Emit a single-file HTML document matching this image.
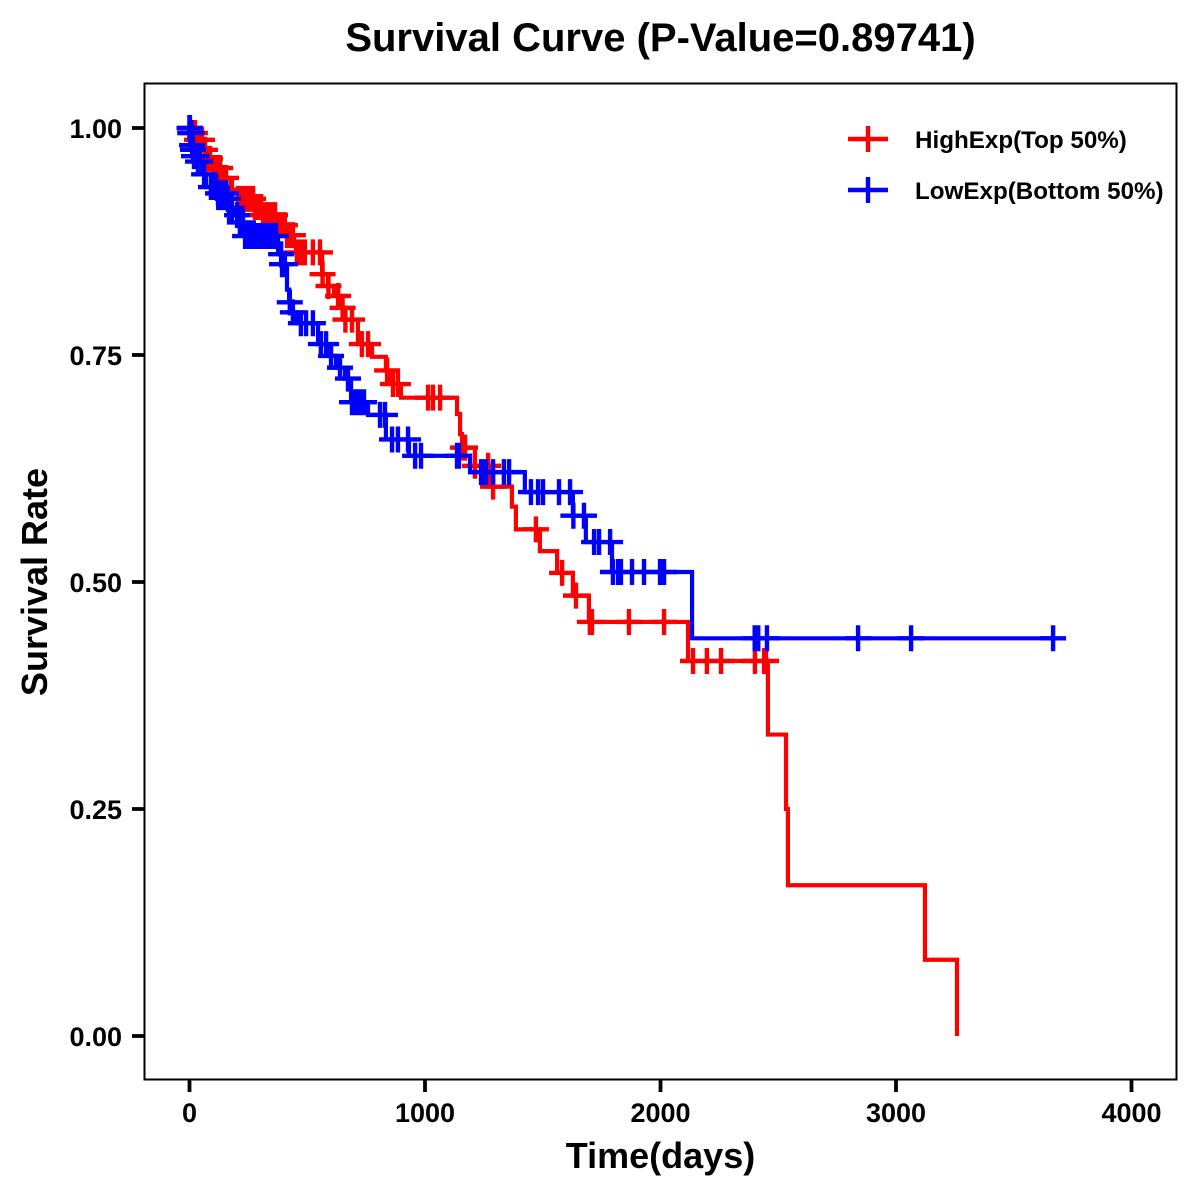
<!DOCTYPE html>
<html lang="en">
<head>
<meta charset="utf-8">
<title>Survival Curve</title>
<style>
html,body{margin:0;padding:0;background:#fff;width:1200px;height:1200px;overflow:hidden}
svg{display:block}
text{font-family:"Liberation Sans",Arial,sans-serif;font-weight:700;fill:#000}
</style>
</head>
<body>
<svg id="chart" xmlns="http://www.w3.org/2000/svg" width="1200" height="1200" viewBox="0 0 1200 1200">
  <rect x="0" y="0" width="1200" height="1200" fill="#fff"/>
  <text x="660.5" y="51" font-size="40" text-anchor="middle">Survival Curve (P-Value=0.89741)</text>
  <text x="660.5" y="1168" font-size="36" text-anchor="middle">Time(days)</text>
  <text transform="translate(47,582) rotate(-90)" font-size="36" text-anchor="middle">Survival Rate</text>
  <g id="ticks"></g>
  <g id="series"></g>
  <rect x="144.5" y="83.5" width="1032" height="996" fill="none" stroke="#000" stroke-width="2"/>
  <g>
    <g>
      <path d="M848 139H888M868 126V152" stroke="#ff0000" stroke-width="4.4" fill="none"/>
      <text x="915" y="148" font-size="24.2">HighExp(Top 50%)</text>
    </g>
    <g>
      <path d="M848 190H888M868 177V203" stroke="#0000ff" stroke-width="4.4" fill="none"/>
      <text x="915" y="199" font-size="24.2">LowExp(Bottom 50%)</text>
    </g>
  </g>
</svg>
<script>
const xTicks = [0, 1000, 2000, 3000, 4000];
const yTicks = [0, 0.25, 0.5, 0.75, 1];
const yTickLabels = ["0.00", "0.25", "0.50", "0.75", "1.00"];

const highTimes = [0,11,32,57,79,104,146,175,206,274,308,367,410,444,452,563,588,614,640,660,715,775,834,855,898,1136,1149,1157,1212,1276,1369,1386,1488,1561,1628,1696,2117,2456,2533,2541,3123,3259];
const highSurv = [1,.9945,.987,.976,.966,.956,.945,.932,.922,.913,.904,.893,.882,.873,.863,.839,.826,.815,.802,.789,.762,.748,.733,.718,.703,.685,.663,.648,.628,.605,.583,.558,.534,.510,.485,.456,.413,.332,.250,.166,.084,0];
const highCensor = [0,2,11,15,23,32,40,53,66,79,87,104,117,130,146,155,180,206,219,227,236,244,253,261,270,278,287,295,304,312,321,329,338,346,355,363,372,380,389,397,405,414,423,431,439,456,465,473,482,490,524,554,565,590,631,650,662,690,732,758,839,864,885,1013,1034,1064,1161,1170,1212,1268,1289,1471,1582,1641,1700,1709,1866,2015,2138,2197,2257,2401,2440,2448];

const lowTimes = [0,2,10,14,18,34,55,70,118,160,168,190,206,232,376,391,414,423,435,456,546,592,622,660,686,758,834,932,1191,1424,1628,1683,1794,2134];
const lowSurv = [1,.9945,.981,.976,.969,.963,.949,.935,.928,.922,.912,.904,.896,.881,.861,.850,.822,.808,.797,.785,.762,.749,.736,.724,.698,.684,.657,.639,.621,.599,.573,.544,.511,.438];
const lowCensor = [0,1,3,8,11,15,19,30,36,45,62,91,96,104,113,121,130,138,146,155,163,168,180,202,214,227,236,244,253,261,270,278,287,295,304,316,325,333,342,350,359,367,389,393,405,426,439,473,495,524,558,580,601,639,673,690,698,707,715,724,732,741,809,830,860,885,928,958,983,1136,1144,1238,1246,1259,1289,1335,1357,1450,1480,1501,1569,1616,1630,1675,1718,1739,1786,1798,1820,1832,1879,1930,1998,2015,2400,2415,2452,2839,3064,3667];
const lowEnd = 3667;

const NS = "http://www.w3.org/2000/svg";
function xScale(t){ return 189.5 + t * 0.2355; }
function yScale(s){ return 1036 - s * 908; }
function survivalAt(times, surv, t){
  let v = surv[0];
  for (let i = 0; i < times.length; i++) { if (times[i] <= t) v = surv[i]; }
  return v;
}
function stepPath(times, surv, end){
  let d = "M" + xScale(times[0]) + " " + yScale(surv[0]);
  for (let i = 1; i < times.length; i++) {
    d += "H" + xScale(times[i]).toFixed(2) + "V" + yScale(surv[i]).toFixed(2);
  }
  if (end !== undefined) d += "H" + xScale(end).toFixed(2);
  return d;
}
function censorPath(times, surv, censor){
  let d = "";
  censor.forEach(function(t){
    const x = xScale(t), y = yScale(survivalAt(times, surv, t));
    d += "M" + (x - 13).toFixed(2) + " " + y.toFixed(2) + "H" + (x + 13).toFixed(2);
    d += "M" + x.toFixed(2) + " " + (y - 13).toFixed(2) + "V" + (y + 13).toFixed(2);
  });
  return d;
}
const tickLayer = document.getElementById("ticks");
const seriesLayer = document.getElementById("series");

xTicks.forEach(function(t){
  const line = document.createElementNS(NS, "line");
  
  
  line.setAttribute("x1", xScale(t));
  line.setAttribute("x2", xScale(t));
  line.setAttribute("y1", 1080);
  line.setAttribute("y2", 1092);
  line.setAttribute("stroke", "#000");
  line.setAttribute("stroke-width", "3.8");
  tickLayer.appendChild(line);
  const label = document.createElementNS(NS, "text");
  
  
  label.setAttribute("x", xScale(t));
  label.setAttribute("y", 1122);
  label.setAttribute("font-size", "27");
  label.setAttribute("text-anchor", "middle");
  label.textContent = String(t);
  tickLayer.appendChild(label);
});
yTicks.forEach(function(s, i){
  const line = document.createElementNS(NS, "line");
  
  
  line.setAttribute("x1", 132);
  line.setAttribute("x2", 144);
  line.setAttribute("y1", yScale(s));
  line.setAttribute("y2", yScale(s));
  line.setAttribute("stroke", "#000");
  line.setAttribute("stroke-width", "3.8");
  tickLayer.appendChild(line);
  const label = document.createElementNS(NS, "text");
  
  
  label.setAttribute("x", 122);
  label.setAttribute("y", yScale(s) + 10);
  label.setAttribute("font-size", "27");
  label.setAttribute("text-anchor", "end");
  label.textContent = yTickLabels[i];
  tickLayer.appendChild(label);
});

const highLine = document.createElementNS(NS, "path");


highLine.setAttribute("d", stepPath(highTimes, highSurv));
highLine.setAttribute("fill", "none");
highLine.setAttribute("stroke", "#ff0000");
highLine.setAttribute("stroke-width", "4.2");
seriesLayer.appendChild(highLine);

const highMarks = document.createElementNS(NS, "path");


highMarks.setAttribute("d", censorPath(highTimes, highSurv, highCensor));
highMarks.setAttribute("fill", "none");
highMarks.setAttribute("stroke", "#ff0000");
highMarks.setAttribute("stroke-width", "4.4");
seriesLayer.appendChild(highMarks);

const lowLine = document.createElementNS(NS, "path");


lowLine.setAttribute("d", stepPath(lowTimes, lowSurv, lowEnd));
lowLine.setAttribute("fill", "none");
lowLine.setAttribute("stroke", "#0000ff");
lowLine.setAttribute("stroke-width", "4.2");
seriesLayer.appendChild(lowLine);

const lowMarks = document.createElementNS(NS, "path");


lowMarks.setAttribute("d", censorPath(lowTimes, lowSurv, lowCensor));
lowMarks.setAttribute("fill", "none");
lowMarks.setAttribute("stroke", "#0000ff");
lowMarks.setAttribute("stroke-width", "4.4");
seriesLayer.appendChild(lowMarks);
</script>
</body>
</html>
